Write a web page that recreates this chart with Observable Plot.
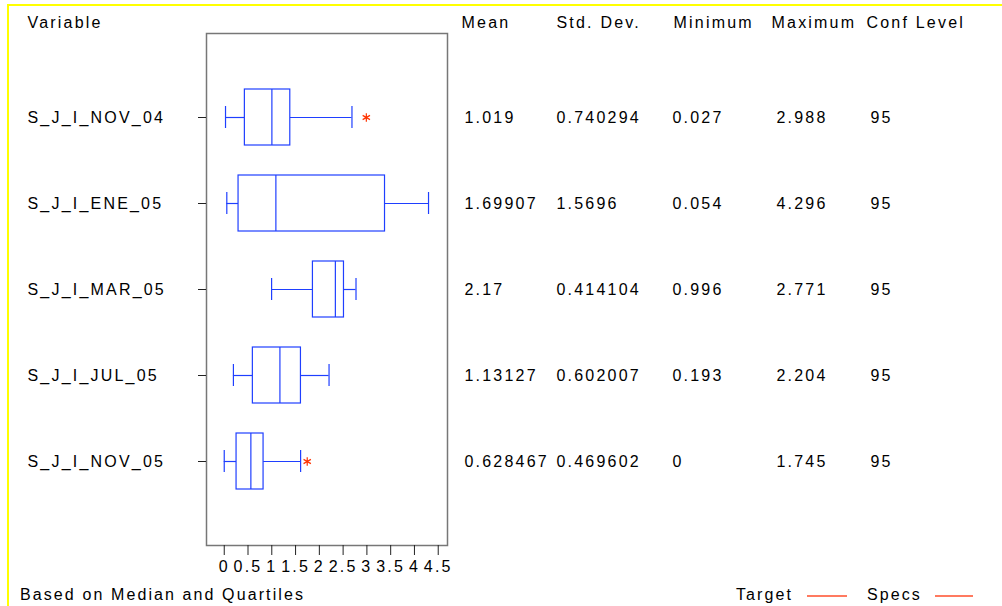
<!DOCTYPE html>
<html><head><meta charset="utf-8">
<script src="https://cdn.jsdelivr.net/npm/d3@7"></script>
<script src="https://cdn.jsdelivr.net/npm/@observablehq/plot@0.6"></script>
<style>
html,body{margin:0;padding:0;background:#fff;}
#wrap{position:relative;width:1002px;height:606px;overflow:hidden;font-family:"Liberation Sans",Arial,sans-serif;}
#border{position:absolute;left:7px;top:4px;width:1100px;height:700px;border-top:2px solid #ffff00;border-left:2px solid #ffff00;box-sizing:border-box;}
#chart{position:absolute;left:0;top:0;}
.legend{position:absolute;font-size:16px;letter-spacing:2.1px;color:#000;line-height:18px;white-space:nowrap;}
.lline{position:absolute;height:2px;background:#ff7a60;}
</style></head>
<body><div id="wrap"><div id="border"></div><div id="chart"></div>
<div class="legend" style="left:20px;top:586px">Based on Median and Quartiles</div>
<div class="legend" style="left:736px;top:586px">Target</div>
<div class="lline" style="left:807px;top:595px;width:40px"></div>
<div class="legend" style="left:867px;top:586px">Specs</div>
<div class="lline" style="left:935px;top:595px;width:38px"></div>
</div>
<script>
// ---- data ----
const variables   = ["S_J_I_NOV_04","S_J_I_ENE_05","S_J_I_MAR_05","S_J_I_JUL_05","S_J_I_NOV_05"];
const whiskerLow  = [0.027, 0.054, 0.996, 0.193, 0.0];
const q1          = [0.434, 0.301, 1.865, 0.602, 0.259];
const median      = [1.002, 1.086, 2.337, 1.171, 0.560];
const q3          = [1.389, 3.381, 2.518, 1.613, 0.827];
const whiskerHigh = [2.686, 4.296, 2.771, 2.204, 1.606];
const outlierVars = ["S_J_I_NOV_04","S_J_I_NOV_05"];
const outlierVals = [2.988, 1.745];
const headers     = ["Variable","Mean","Std. Dev.","Minimum","Maximum","Conf Level"];
const means       = ["1.019","1.69907","2.17","1.13127","0.628467"];
const stdDevs     = ["0.740294","1.5696","0.414104","0.602007","0.469602"];
const minimums    = ["0.027","0.054","0.996","0.193","0"];
const maximums    = ["2.988","4.296","2.771","2.204","1.745"];
const confLevels  = ["95","95","95","95","95"];
const xTicks      = [0,0.5,1,1.5,2,2.5,3,3.5,4,4.5];

// ---- layout (styles) ----
const blue = "#1f3fff";
const headerDx = [-179, 255, 350, 467, 565, 660];
const colDx = [258, 350, 466, 570, 664];

const rows = variables.map((v,i)=>({v, lo:whiskerLow[i], q1:q1[i], med:median[i], q3:q3[i], hi:whiskerHigh[i]}));
const outliers = outlierVars.map((v,i)=>({v, x:outlierVals[i]}));
const table = [means, stdDevs, minimums, maximums, confLevels];

const colMarks = table.map((col,ci)=>Plot.text(variables.map((v,i)=>({v, t:col[i]})), {
  y:"v", text:"t", frameAnchor:"left", dx:colDx[ci], textAnchor:"start", fill:"black"
}));
const headerMarks = headers.map((h,i)=>Plot.text([h], {text:d=>d, frameAnchor:"top-left", dx:headerDx[i], dy:-17, textAnchor:"start", fill:"black"}));

const chart = Plot.plot({
  width:1002, height:606,
  marginLeft:206, marginRight:555, marginTop:33, marginBottom:61,
  style:{fontFamily:"'Liberation Sans', Arial, sans-serif", fontSize:"16px", letterSpacing:"2.2px", background:"transparent", overflow:"visible"},
  x:{domain:[-0.373, 4.695]},
  y:{type:"band", domain:variables, paddingInner:0.35, paddingOuter:0.65},
  marks:[
    Plot.frame({stroke:"#777", strokeWidth:1.5}),
    Plot.axisX({ticks:xTicks, tickFormat:d=>String(d), tickSize:10, tickPadding:5, label:null, stroke:"#222"}),
    Plot.axisY({tickSize:8, tickFormat:()=>"", label:null, stroke:"#222"}),
    Plot.text(variables, {y:d=>d, text:d=>d, frameAnchor:"left", dx:-179, textAnchor:"start", fill:"black"}),
    ...headerMarks,
    Plot.ruleY(rows, {y:"v", x1:"lo", x2:"q1", stroke:blue, strokeWidth:1.2}),
    Plot.ruleY(rows, {y:"v", x1:"q3", x2:"hi", stroke:blue, strokeWidth:1.2}),
    Plot.barX(rows, {y:"v", x1:"q1", x2:"q3", fill:"white", stroke:blue, strokeWidth:1.2}),
    Plot.tickX(rows, {y:"v", x:"med", stroke:blue, strokeWidth:1.2}),
    Plot.tickX(rows, {y:"v", x:"lo", stroke:blue, strokeWidth:1.2, insetTop:17, insetBottom:17}),
    Plot.tickX(rows, {y:"v", x:"hi", stroke:blue, strokeWidth:1.2, insetTop:17, insetBottom:17}),
    Plot.dot(outliers, {y:"v", x:"x", symbol:"asterisk", stroke:"#ff3300", r:4, strokeWidth:1.2}),
    ...colMarks
  ]
});
document.getElementById("chart").appendChild(chart);
</script>
</body></html>
